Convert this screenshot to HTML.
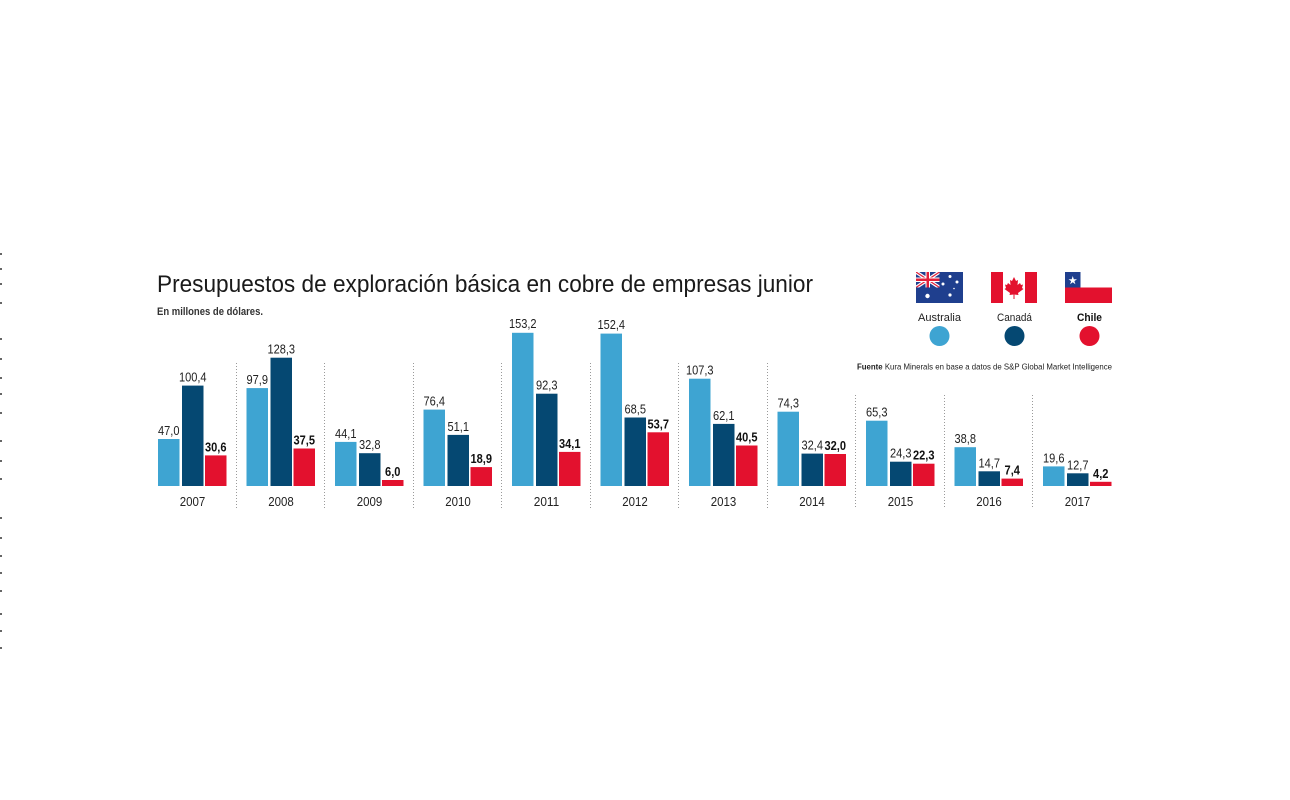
<!DOCTYPE html>
<html>
<head>
<meta charset="utf-8">
<style>
html,body{margin:0;padding:0;background:#fff;}
svg{display:block;}
text{font-family:"Liberation Sans",sans-serif;}
</style>
</head>
<body>
<svg width="1290" height="800" viewBox="0 0 1290 800" xmlns="http://www.w3.org/2000/svg">
<rect width="1290" height="800" fill="#fff"/>

<!-- left edge dots -->
<g fill="#666">
<rect x="0" y="253" width="2" height="2"/><rect x="0" y="268" width="2" height="2"/><rect x="0" y="283" width="2" height="2"/><rect x="0" y="302" width="2" height="2"/>
<rect x="0" y="338" width="2" height="2"/><rect x="0" y="358" width="2" height="2"/><rect x="0" y="377" width="2" height="2"/><rect x="0" y="393" width="2" height="2"/>
<rect x="0" y="412" width="2" height="2"/><rect x="0" y="440" width="2" height="2"/><rect x="0" y="460" width="2" height="2"/><rect x="0" y="478" width="2" height="2"/>
<rect x="0" y="517" width="2" height="2"/><rect x="0" y="537" width="2" height="2"/><rect x="0" y="555" width="2" height="2"/><rect x="0" y="572" width="2" height="2"/>
<rect x="0" y="590" width="2" height="2"/><rect x="0" y="613" width="2" height="2"/><rect x="0" y="630" width="2" height="2"/><rect x="0" y="647" width="2" height="2"/>
</g>

<!-- title -->
<text x="157" y="292" font-size="24" fill="#1a1a1a" textLength="656" lengthAdjust="spacingAndGlyphs">Presupuestos de exploración básica en cobre de empresas junior</text>
<text x="157" y="315" font-size="11" fill="#333" font-weight="bold" textLength="106" lengthAdjust="spacingAndGlyphs">En millones de dólares.</text>

<!-- legend flags -->
<defs><clipPath id="cant"><rect x="916" y="272" width="23.5" height="15.5"/></clipPath></defs>
<!-- Australia -->
<g>
<rect x="916" y="272" width="47" height="31" fill="#1f3f8e"/>
<g clip-path="url(#cant)">
<line x1="916" y1="272" x2="939.5" y2="287.5" stroke="#fff" stroke-width="3.5"/>
<line x1="939.5" y1="272" x2="916" y2="287.5" stroke="#fff" stroke-width="3.5"/>
<line x1="916" y1="272" x2="939.5" y2="287.5" stroke="#e0203a" stroke-width="1.2"/>
<line x1="939.5" y1="272" x2="916" y2="287.5" stroke="#e0203a" stroke-width="1.2"/>
<rect x="925.5" y="272" width="4.5" height="15.5" fill="#fff"/>
<rect x="916" y="277.5" width="23.5" height="4.5" fill="#fff"/>
<rect x="926.5" y="272" width="2.5" height="15.5" fill="#e0203a"/>
<rect x="916" y="278.5" width="23.5" height="2.5" fill="#e0203a"/>
</g>
<g fill="#fff">
<circle cx="927.5" cy="296" r="2.2"/>
<circle cx="950" cy="295" r="1.6"/>
<circle cx="943" cy="284" r="1.5"/>
<circle cx="957" cy="282" r="1.5"/>
<circle cx="950" cy="276.5" r="1.5"/>
<circle cx="954" cy="288.5" r="0.8"/>
</g>
</g>
<!-- Canada -->
<g>
<rect x="991" y="272" width="46" height="31" fill="#fff"/>
<rect x="991" y="272" width="12" height="31" fill="#e3112e"/>
<rect x="1025" y="272" width="12" height="31" fill="#e3112e"/>
<path d="M1014 277 L1016 281 L1018 280 L1017.5 285 L1020 283 L1021 285 L1023 284.5 L1022 288 L1023.5 289 L1018 293 L1018.5 295 L1014.5 294.5 L1014.5 299 L1013.5 299 L1013.5 294.5 L1009.5 295 L1010 293 L1004.5 289 L1006 288 L1005 284.5 L1007 285 L1008 283 L1010.5 285 L1010 280 L1012 281 Z" fill="#e3112e"/>
</g>
<!-- Chile -->
<g>
<rect x="1065" y="272" width="47" height="15.5" fill="#fff"/>
<rect x="1065" y="287.5" width="47" height="15.5" fill="#e3112e"/>
<rect x="1065" y="272" width="15.5" height="15.5" fill="#1f3f8e"/>
<polygon points="1072.75,276 1073.8,279.2 1077,279.2 1074.4,281.1 1075.4,284.2 1072.75,282.3 1070.1,284.2 1071.1,281.1 1068.5,279.2 1071.7,279.2" fill="#fff"/>
</g>

<text x="939.5" y="321" font-size="11" fill="#222" text-anchor="middle" textLength="43" lengthAdjust="spacingAndGlyphs">Australia</text>
<text x="1014.5" y="321" font-size="11" fill="#222" text-anchor="middle" textLength="35" lengthAdjust="spacingAndGlyphs">Canadá</text>
<text x="1089.5" y="321" font-size="11" fill="#111" font-weight="bold" text-anchor="middle" textLength="25" lengthAdjust="spacingAndGlyphs">Chile</text>

<circle cx="939.5" cy="336" r="10" fill="#3ea4d2"/>
<circle cx="1014.5" cy="336" r="10" fill="#054872"/>
<circle cx="1089.5" cy="336" r="10" fill="#e3112e"/>

<text x="857" y="369.5" font-size="8.5" fill="#222" textLength="255" lengthAdjust="spacingAndGlyphs"><tspan font-weight="bold">Fuente</tspan> Kura Minerals en base a datos de S&amp;P Global Market Intelligence</text>

<!-- separators -->
<g stroke="#9a9a9a" stroke-width="1" stroke-dasharray="1 2">
<line x1="236.5" y1="363" x2="236.5" y2="508"/>
<line x1="324.5" y1="363" x2="324.5" y2="508"/>
<line x1="413.5" y1="363" x2="413.5" y2="508"/>
<line x1="501.5" y1="363" x2="501.5" y2="508"/>
<line x1="590.5" y1="363" x2="590.5" y2="508"/>
<line x1="678.5" y1="363" x2="678.5" y2="508"/>
<line x1="767.5" y1="363" x2="767.5" y2="508"/>
<line x1="855.5" y1="395" x2="855.5" y2="508"/>
<line x1="944.5" y1="395" x2="944.5" y2="508"/>
<line x1="1032.5" y1="395" x2="1032.5" y2="508"/>
</g>

<!-- bars -->
<g fill="#3ea4d2">
<rect x="158" y="439" width="21.5" height="47"/>
<rect x="246.5" y="388.1" width="21.5" height="97.9"/>
<rect x="335" y="441.9" width="21.5" height="44.1"/>
<rect x="423.5" y="409.6" width="21.5" height="76.4"/>
<rect x="512" y="332.8" width="21.5" height="153.2"/>
<rect x="600.5" y="333.6" width="21.5" height="152.4"/>
<rect x="689" y="378.7" width="21.5" height="107.3"/>
<rect x="777.5" y="411.7" width="21.5" height="74.3"/>
<rect x="866" y="420.7" width="21.5" height="65.3"/>
<rect x="954.5" y="447.2" width="21.5" height="38.8"/>
<rect x="1043" y="466.4" width="21.5" height="19.6"/>
</g>
<g fill="#054872">
<rect x="182" y="385.6" width="21.5" height="100.4"/>
<rect x="270.5" y="357.7" width="21.5" height="128.3"/>
<rect x="359" y="453.2" width="21.5" height="32.8"/>
<rect x="447.5" y="434.9" width="21.5" height="51.1"/>
<rect x="536" y="393.7" width="21.5" height="92.3"/>
<rect x="624.5" y="417.5" width="21.5" height="68.5"/>
<rect x="713" y="423.9" width="21.5" height="62.1"/>
<rect x="801.5" y="453.6" width="21.5" height="32.4"/>
<rect x="890" y="461.7" width="21.5" height="24.3"/>
<rect x="978.5" y="471.3" width="21.5" height="14.7"/>
<rect x="1067" y="473.3" width="21.5" height="12.7"/>
</g>
<g fill="#e3112e">
<rect x="205" y="455.4" width="21.5" height="30.6"/>
<rect x="293.5" y="448.5" width="21.5" height="37.5"/>
<rect x="382" y="480" width="21.5" height="6"/>
<rect x="470.5" y="467.1" width="21.5" height="18.9"/>
<rect x="559" y="451.9" width="21.5" height="34.1"/>
<rect x="647.5" y="432.3" width="21.5" height="53.7"/>
<rect x="736" y="445.5" width="21.5" height="40.5"/>
<rect x="824.5" y="454" width="21.5" height="32"/>
<rect x="913" y="463.7" width="21.5" height="22.3"/>
<rect x="1001.5" y="478.6" width="21.5" height="7.4"/>
<rect x="1090" y="481.8" width="21.5" height="4.2"/>
</g>

<!-- value labels -->
<g font-size="13" fill="#222" text-anchor="middle" lengthAdjust="spacingAndGlyphs">
<text x="168.75" y="435" textLength="21.5" lengthAdjust="spacingAndGlyphs">47,0</text>
<text x="192.75" y="381.6" textLength="27.6" lengthAdjust="spacingAndGlyphs">100,4</text>
<text x="257.25" y="384.1" textLength="21.5" lengthAdjust="spacingAndGlyphs">97,9</text>
<text x="281.25" y="353.7" textLength="27.6" lengthAdjust="spacingAndGlyphs">128,3</text>
<text x="345.75" y="437.9" textLength="21.5" lengthAdjust="spacingAndGlyphs">44,1</text>
<text x="369.75" y="449.2" textLength="21.5" lengthAdjust="spacingAndGlyphs">32,8</text>
<text x="434.25" y="405.6" textLength="21.5" lengthAdjust="spacingAndGlyphs">76,4</text>
<text x="458.25" y="430.9" textLength="21.5" lengthAdjust="spacingAndGlyphs">51,1</text>
<text x="522.75" y="328" textLength="27.6" lengthAdjust="spacingAndGlyphs">153,2</text>
<text x="546.75" y="389.7" textLength="21.5" lengthAdjust="spacingAndGlyphs">92,3</text>
<text x="611.25" y="329" textLength="27.6" lengthAdjust="spacingAndGlyphs">152,4</text>
<text x="635.25" y="413.5" textLength="21.5" lengthAdjust="spacingAndGlyphs">68,5</text>
<text x="699.75" y="374.7" textLength="27.6" lengthAdjust="spacingAndGlyphs">107,3</text>
<text x="723.75" y="419.9" textLength="21.5" lengthAdjust="spacingAndGlyphs">62,1</text>
<text x="788.25" y="407.7" textLength="21.5" lengthAdjust="spacingAndGlyphs">74,3</text>
<text x="812.25" y="449.6" textLength="21.5" lengthAdjust="spacingAndGlyphs">32,4</text>
<text x="876.75" y="416.7" textLength="21.5" lengthAdjust="spacingAndGlyphs">65,3</text>
<text x="900.75" y="457.7" textLength="21.5" lengthAdjust="spacingAndGlyphs">24,3</text>
<text x="965.25" y="443.2" textLength="21.5" lengthAdjust="spacingAndGlyphs">38,8</text>
<text x="989.25" y="467.3" textLength="21.5" lengthAdjust="spacingAndGlyphs">14,7</text>
<text x="1053.75" y="462.4" textLength="21.5" lengthAdjust="spacingAndGlyphs">19,6</text>
<text x="1077.75" y="469.3" textLength="21.5" lengthAdjust="spacingAndGlyphs">12,7</text>
</g>
<g font-size="13" fill="#111" font-weight="bold" text-anchor="middle">
<text x="215.75" y="451.4" textLength="21.5" lengthAdjust="spacingAndGlyphs">30,6</text>
<text x="304.25" y="444.5" textLength="21.5" lengthAdjust="spacingAndGlyphs">37,5</text>
<text x="392.75" y="476" textLength="15.4" lengthAdjust="spacingAndGlyphs">6,0</text>
<text x="481.25" y="463.1" textLength="21.5" lengthAdjust="spacingAndGlyphs">18,9</text>
<text x="569.75" y="447.9" textLength="21.5" lengthAdjust="spacingAndGlyphs">34,1</text>
<text x="658.25" y="428.3" textLength="21.5" lengthAdjust="spacingAndGlyphs">53,7</text>
<text x="746.75" y="441.5" textLength="21.5" lengthAdjust="spacingAndGlyphs">40,5</text>
<text x="835.25" y="450" textLength="21.5" lengthAdjust="spacingAndGlyphs">32,0</text>
<text x="923.75" y="459.7" textLength="21.5" lengthAdjust="spacingAndGlyphs">22,3</text>
<text x="1012.25" y="474.6" textLength="15.4" lengthAdjust="spacingAndGlyphs">7,4</text>
<text x="1100.75" y="477.8" textLength="15.4" lengthAdjust="spacingAndGlyphs">4,2</text>
</g>

<!-- year labels -->
<g font-size="13" fill="#222" text-anchor="middle">
<text x="192.5" y="506" textLength="25.5" lengthAdjust="spacingAndGlyphs">2007</text>
<text x="281" y="506" textLength="25.5" lengthAdjust="spacingAndGlyphs">2008</text>
<text x="369.5" y="506" textLength="25.5" lengthAdjust="spacingAndGlyphs">2009</text>
<text x="458" y="506" textLength="25.5" lengthAdjust="spacingAndGlyphs">2010</text>
<text x="546.5" y="506" textLength="25.5" lengthAdjust="spacingAndGlyphs">2011</text>
<text x="635" y="506" textLength="25.5" lengthAdjust="spacingAndGlyphs">2012</text>
<text x="723.5" y="506" textLength="25.5" lengthAdjust="spacingAndGlyphs">2013</text>
<text x="812" y="506" textLength="25.5" lengthAdjust="spacingAndGlyphs">2014</text>
<text x="900.5" y="506" textLength="25.5" lengthAdjust="spacingAndGlyphs">2015</text>
<text x="989" y="506" textLength="25.5" lengthAdjust="spacingAndGlyphs">2016</text>
<text x="1077.5" y="506" textLength="25.5" lengthAdjust="spacingAndGlyphs">2017</text>
</g>
</svg>
</body>
</html>
